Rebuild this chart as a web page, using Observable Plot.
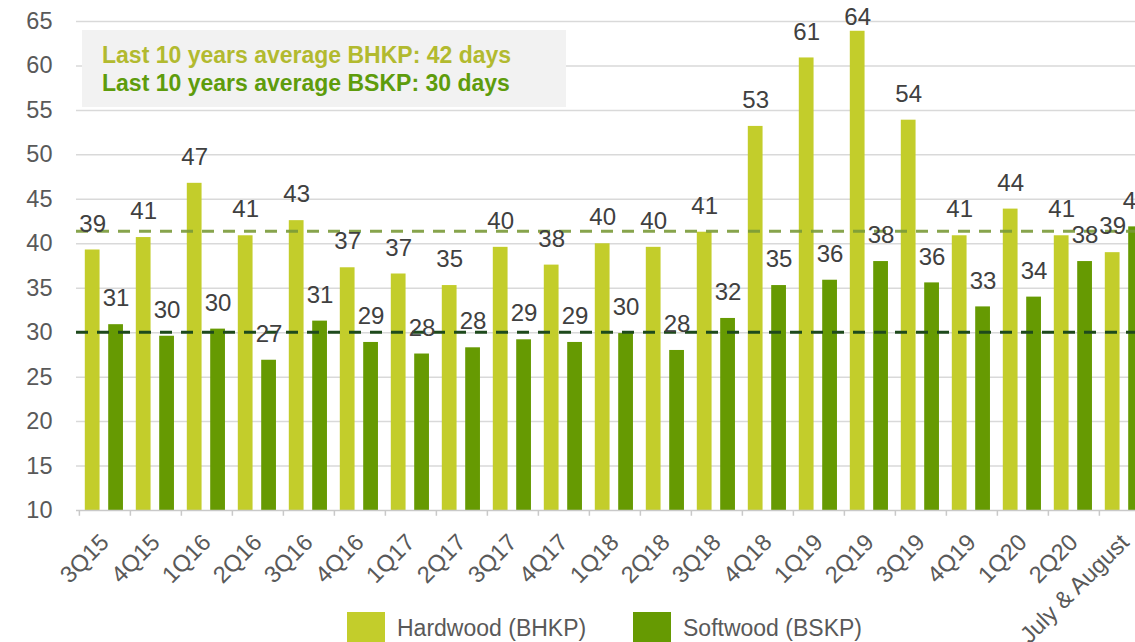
<!DOCTYPE html>
<html>
<head>
<meta charset="utf-8">
<script src="https://cdn.jsdelivr.net/npm/d3@7"></script>
<script src="https://cdn.jsdelivr.net/npm/@observablehq/plot@0.6"></script>
<style>
  html, body { margin: 0; padding: 0; background: #fff; overflow: hidden; }
  #wrap { position: relative; width: 1135px; height: 642px; overflow: hidden; font-family: "Liberation Sans", Arial, sans-serif; }
  #chart { position: absolute; left: 0; top: 0; width: 1152px; }
  #chart svg { max-width: none !important; }
  #note { position: absolute; left: 82px; top: 30px; width: 484px; height: 77px; background: #f2f2f2; }
  #note div { position: absolute; left: 20px; font-size: 23px; line-height: 23px; font-weight: bold; white-space: nowrap; }
  .legend-item { position: absolute; top: 612px; height: 40px; }
  .legend-item .sw { position: absolute; left: 0; top: 0; width: 38px; height: 38px; }
  .legend-item .lb { position: absolute; left: 50px; top: 4.5px; font-size: 23px; line-height: 23px; color: #595959; white-space: nowrap; }
</style>
</head>
<body>
<div id="wrap">
  <div id="chart"></div>
  <div id="note"></div>
  <div id="legend"></div>
</div>
<script>
// ---- data ----
const categories = ["3Q15","4Q15","1Q16","2Q16","3Q16","4Q16","1Q17","2Q17","3Q17","4Q17","1Q18","2Q18","3Q18","4Q18","1Q19","2Q19","3Q19","4Q19","1Q20","2Q20","July & August"];
const hardwood = [39.3, 40.7, 46.8, 40.9, 42.6, 37.3, 36.6, 35.3, 39.6, 37.6, 40.0, 39.6, 41.3, 53.2, 60.9, 63.9, 53.9, 40.9, 43.9, 40.9, 39.0];
const softwood = [30.9, 29.6, 30.4, 26.9, 31.3, 28.9, 27.6, 28.3, 29.2, 28.9, 29.9, 28.0, 31.6, 35.3, 35.9, 38.0, 35.6, 32.9, 34.0, 38.0, 41.9];
const yTicks = [10, 15, 20, 25, 30, 35, 40, 45, 50, 55, 60, 65];
const bhkpAverageLine = [41.4];
const bskpAverageLine = [30.05];
const noteLines = ["Last 10 years average BHKP: 42 days", "Last 10 years average BSKP: 30 days"];
const seriesNames = ["Hardwood (BHKP)", "Softwood (BSKP)"];

// ---- styling ----
const HW_COLOR = "#c3cd2b";
const SW_COLOR = "#669a02";
const NOTE_COLORS = ["#b2ba2f", "#5e9c0c"];
const LABEL_CEILING = 62.6; // keep value labels inside the picture

const rows = categories.map((c, i) => ({category: c, hardwood: hardwood[i], softwood: softwood[i]}));

const W = 1152, H = 642, ML = 76, MR = 0, MT = 21, MB = 132;
const bw = (W - ML - MR) / categories.length;

const chart = Plot.plot({
  width: W,
  height: H,
  marginLeft: ML,
  marginRight: MR,
  marginTop: MT,
  marginBottom: MB,
  style: {fontFamily: "'Liberation Sans', Arial, sans-serif", fontSize: "23.5px", color: "#595959", background: "transparent", overflow: "visible", maxWidth: "none"},
  x: {domain: categories, padding: 0, tickRotate: -45, tickSize: 0, tickPadding: 28, label: null},
  y: {domain: [10, 65], ticks: yTicks, tickSize: 0, tickPadding: 24, label: null, tickFormat: d => String(d)},
  marks: [
    Plot.ruleY(yTicks.filter(t => t > 10), {stroke: "#d9d9d9", strokeWidth: 1.5}),
    Plot.barY(rows, {x: "category", y1: 10, y2: "hardwood", fill: HW_COLOR, insetLeft: 5.8, insetRight: bw - 20.8}),
    Plot.barY(rows, {x: "category", y1: 10, y2: "softwood", fill: SW_COLOR, insetLeft: 29.2, insetRight: bw - 44.2}),
    Plot.ruleY([10], {stroke: "#c9c9c9", strokeWidth: 1.5}),
    Plot.ruleX(categories, {x: d => d, y1: 10, y2: 9.35, dx: -bw / 2, stroke: "#c9c9c9", strokeWidth: 1.5}),
    Plot.ruleY(bhkpAverageLine, {stroke: "#7a9a38", strokeOpacity: 0.9, strokeWidth: 3, strokeDasharray: "12,9"}),
    Plot.ruleY(bskpAverageLine, {stroke: "#1e4a1c", strokeWidth: 3, strokeDasharray: "12,9"}),
    Plot.text(rows, {x: "category", y: d => Math.min(d.hardwood, LABEL_CEILING), text: d => String(Math.round(d.hardwood)), dy: -26, dx: -12.3, fontSize: 24, fill: "#404040"}),
    Plot.text(rows, {x: "category", y: "softwood", text: d => String(Math.round(d.softwood)), dy: -26, dx: 11.1, fontSize: 24, fill: "#404040"})
  ]
});
document.getElementById("chart").appendChild(chart);

// note box
const note = document.getElementById("note");
noteLines.forEach((t, i) => {
  const d = document.createElement("div");
  d.textContent = t;
  d.style.top = (i === 0 ? 13.8 : 42.2) + "px";
  d.style.color = NOTE_COLORS[i];
  note.appendChild(d);
});

// legend
const legend = document.getElementById("legend");
const legendLefts = [347, 633];
seriesNames.forEach((name, i) => {
  const item = document.createElement("div");
  item.className = "legend-item";
  item.style.left = legendLefts[i] + "px";
  const sw = document.createElement("div");
  sw.className = "sw";
  sw.style.background = i === 0 ? HW_COLOR : SW_COLOR;
  const lb = document.createElement("div");
  lb.className = "lb";
  lb.textContent = name;
  item.appendChild(sw);
  item.appendChild(lb);
  legend.appendChild(item);
});
</script>
</body>
</html>
